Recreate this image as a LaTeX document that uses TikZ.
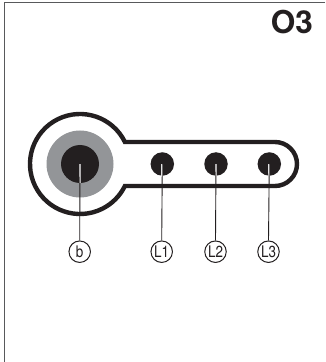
\documentclass[tikz,border=0pt]{standalone}
\usepackage{graphicx}
\usepackage{fontspec}
\setmainfont{TeX Gyre Heros}
\definecolor{inkblack}{HTML}{231F20}
\definecolor{ringgray}{HTML}{939598}
\definecolor{rulegray}{HTML}{58595B}
\newcommand{\narrowlabel}[1]{\scalebox{0.84}[1]{#1}}
\tikzset{
  x=1pt,y=1pt,
  hub/.style={circle,draw=none,fill=inkblack,inner sep=0pt,minimum size=#1},
  ringdisc/.style={circle,draw=none,fill=ringgray,inner sep=0pt,minimum size=67pt},
  callout/.style={circle,draw=inkblack,line width=1pt,fill=white,inner sep=0pt,minimum size=21.5pt,
    text=inkblack,font=\fontsize{16}{16}\selectfont},
  halo/.style={draw=white,line width=1.9pt},
  leader/.style={draw=inkblack,line width=0.9pt},
  outline/.style={draw=inkblack,line width=4.4pt,fill=white},
  framerule/.style={draw=rulegray,line width=1.5pt}
}
\begin{document}
\begin{tikzpicture}
\useasboundingbox (0,0) rectangle (325,362);
% frame
\coordinate (ftl) at (4.3,359.5);
\coordinate (ftr) at (325,359.5);
\coordinate (fbl) at (4.3,0);
\draw[framerule] (ftr) -- (ftl) -- (fbl);
% title
\node[anchor=east,inner sep=0pt,text=inkblack,font=\fontsize{31.5}{31.5}\selectfont\bfseries] (title) at (313,339.5) {O3};
% body outline
\draw[outline] (124.9,220) arc[start angle=26.1,end angle=333.9,radius=50pt]
  -- (275,176) arc[start angle=-90,end angle=90,radius=22pt] -- cycle;
% sockets
\node[ringdisc] (ring) at (80,198) {};
\node[hub=38pt] (bh) at (80,198) {};
\node[hub=23.5pt] (l1h) at (162.3,198) {};
\node[hub=23.5pt] (l2h) at (216,198) {};
\node[hub=23.5pt] (l3h) at (269.3,198) {};
% callouts
\node[callout] (b) at (79.7,110.3) {\narrowlabel{b}};
\node[callout] (l1) at (161.7,110.3) {\narrowlabel{L1}};
\node[callout] (l2) at (215.5,110.3) {\narrowlabel{L2}};
\node[callout] (l3) at (268.5,110.3) {\narrowlabel{L3}};
% leaders
\foreach \s/\t in {bh/b,l1h/l1,l2h/l2,l3h/l3}{
  \path[halo] (\s.center) -- (\s.south);
  \path[leader] (\s.center) -- (\t.north);
}
\end{tikzpicture}
\end{document}
